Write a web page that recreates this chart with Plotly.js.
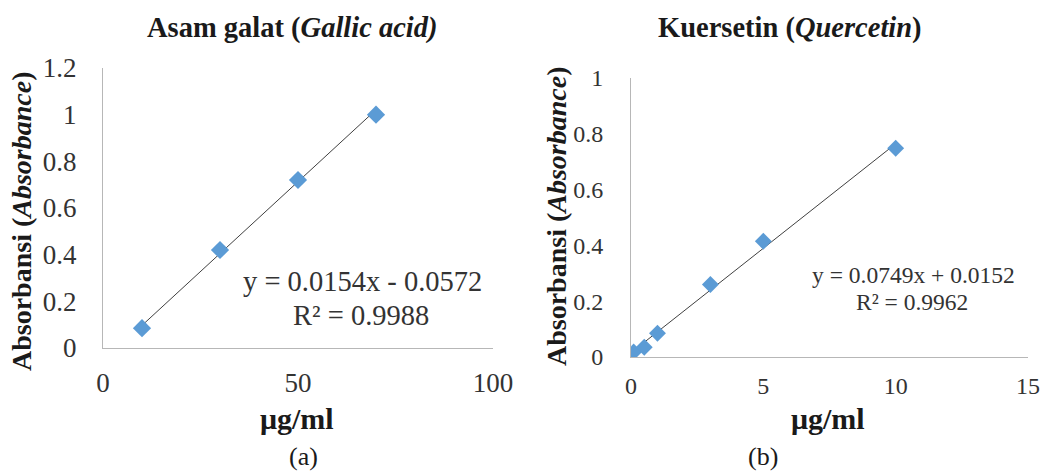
<!DOCTYPE html>
<html>
<head>
<meta charset="utf-8">
<script src="https://cdn.plot.ly/plotly-3.0.1.min.js"></script>
<style>html,body{margin:0;padding:0;background:#fff;}#chart{width:1046px;height:474px;}</style>
</head>
<body>
<div id="chart"></div>
<script>
// Panel (a): Gallic acid
const gallicConc = [10, 30, 50, 70];
const gallicAbs = [0.085, 0.42, 0.72, 1.0];
const gallicFit = {slope: 0.0154, intercept: -0.0572, r2: 0.9988};
// Panel (b): Quercetin
const quercConc = [0.1, 0.5, 1, 3, 5, 10];
const quercAbs = [0.018, 0.035, 0.085, 0.26, 0.415, 0.748];
const quercFit = {slope: 0.0749, intercept: 0.0152, r2: 0.9962};

const gallicXTicks = [0, 50, 100];
const gallicYTicks = [0, 0.2, 0.4, 0.6, 0.8, 1, 1.2];
const quercXTicks = [0, 5, 10, 15];
const quercYTicks = [0, 0.2, 0.4, 0.6, 0.8, 1];

const W = 1046, H = 474;
const px = v => v / W;
const py = v => 1 - v / H;

const FONT = "Liberation Serif, Times New Roman, serif";
const BLUE = "#5B9BD5";
const TXT = '#1a1a1a';
const TICK = '#333333';

function fitLine(xs, fit) {
  const x0 = Math.min(...xs), x1 = Math.max(...xs);
  return {x: [x0, x1], y: [fit.slope * x0 + fit.intercept, fit.slope * x1 + fit.intercept]};
}
const gl = fitLine(gallicConc, gallicFit);
const ql = fitLine(quercConc, quercFit);

const traces = [
  {x: gl.x, y: gl.y, mode: 'lines', line: {color: '#404040', width: 1}, xaxis: 'x', yaxis: 'y', hoverinfo: 'skip'},
  {x: gallicConc, y: gallicAbs, mode: 'markers', marker: {symbol: 'diamond', size: 14, color: BLUE}, xaxis: 'x', yaxis: 'y'},
  {x: ql.x, y: ql.y, mode: 'lines', line: {color: '#404040', width: 1}, xaxis: 'x2', yaxis: 'y2', hoverinfo: 'skip'},
  {x: quercConc, y: quercAbs, mode: 'markers', marker: {symbol: 'diamond', size: 13, color: BLUE}, xaxis: 'x2', yaxis: 'y2'}
];

const axBase = {
  showgrid: false, zeroline: false, showline: true, linecolor: '#b7b7b7', linewidth: 1,
  ticks: '', fixedrange: true
};

function fmtSigned(v) { return (v < 0 ? ' - ' : ' + ') + Math.abs(v).toFixed(4); }

function ann(text, x, y, size, color, weight, extra) {
  return Object.assign({text: text, x: px(x), y: py(y), xref: 'paper', yref: 'paper', xanchor: 'center', yanchor: 'middle',
    showarrow: false, font: {family: FONT, size: size, color: color, weight: weight}}, extra || {});
}

const layout = {
  width: W, height: H, margin: {l: 0, r: 0, t: 0, b: 0},
  paper_bgcolor: '#fff', plot_bgcolor: '#fff', showlegend: false,
  font: {family: FONT},
  xaxis: Object.assign({}, axBase, {domain: [px(103), px(493)], range: [0, 100], tickvals: gallicXTicks, ticktext: gallicXTicks.map(String), anchor: 'y', ticklabelstandoff: 11, tickfont: {family: FONT, size: 27, color: TICK}}),
  yaxis: Object.assign({}, axBase, {domain: [py(348), py(68)], range: [0, 1.2], tickvals: gallicYTicks, ticktext: gallicYTicks.map(String), anchor: 'x', ticklabelstandoff: 20, tickfont: {family: FONT, size: 27, color: TICK}}),
  xaxis2: Object.assign({}, axBase, {domain: [px(631), px(1028)], range: [0, 15], tickvals: quercXTicks, ticktext: quercXTicks.map(String), anchor: 'y2', ticklabelstandoff: 7, tickfont: {family: FONT, size: 24, color: TICK}}),
  yaxis2: Object.assign({}, axBase, {domain: [py(357), py(78)], range: [0, 1], tickvals: quercYTicks, ticktext: quercYTicks.map(String), anchor: 'x2', ticklabelstandoff: 22, tickfont: {family: FONT, size: 24, color: TICK}}),
  annotations: [
    ann('Asam galat (<i>Gallic acid)</i>', 292, 28, 28.5, TXT, 'bold'),
    ann('Kuersetin (<i>Quercetin</i>)', 790, 28, 28.5, TXT, 'bold'),
    ann('Absorbansi (<i>Absorbance</i>)', 22, 221, 28, TXT, 'bold', {textangle: -90}),
    ann('Absorbansi (<i>Absorbance</i>)', 556, 216, 28, TXT, 'bold', {textangle: -90}),
    ann('μg/ml', 297, 418, 30, TXT, 'bold'),
    ann('μg/ml', 828, 418, 30, TXT, 'bold'),
    ann('(a)', 303, 456, 26, TXT, 'normal'),
    ann('(b)', 763, 456, 26, TXT, 'normal'),
    ann('y = ' + gallicFit.slope.toFixed(4) + 'x' + fmtSigned(gallicFit.intercept), 362, 281, 28.5, TICK, 'normal'),
    ann('R² = ' + gallicFit.r2.toFixed(4), 361, 315, 28.5, TICK, 'normal'),
    ann('y = ' + quercFit.slope.toFixed(4) + 'x' + fmtSigned(quercFit.intercept), 913, 275, 23.5, TICK, 'normal'),
    ann('R² = ' + quercFit.r2.toFixed(4), 912, 302, 23.5, TICK, 'normal')
  ]
};

Plotly.newPlot('chart', traces, layout, {displayModeBar: false, staticPlot: true});
</script>
</body>
</html>
